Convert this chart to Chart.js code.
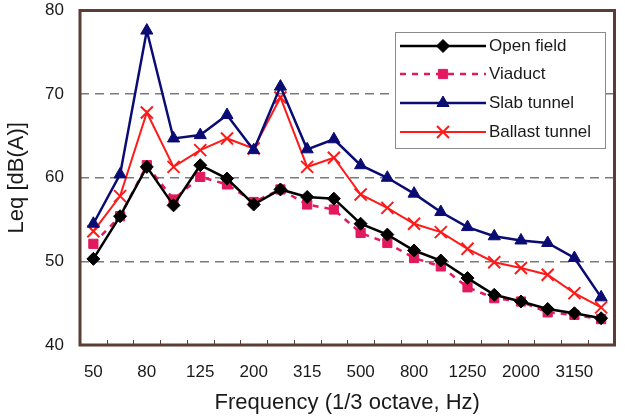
<!DOCTYPE html>
<html>
<head>
<meta charset="utf-8">
<script src="https://cdn.jsdelivr.net/npm/chart.js@4.4.1/dist/chart.umd.min.js"></script>
<style>
  html, body { margin: 0; padding: 0; background: #fff; }
  #wrap { width: 625px; height: 416px; }
</style>
</head>
<body>
<div id="wrap"><canvas id="grafico"></canvas></div>
<script>
// 1/3 octave band centre frequencies (Hz)
var frequencies = ['50', '63', '80', '100', '125', '160', '200', '250', '315', '400',
                   '500', '630', '800', '1000', '1250', '1600', '2000', '2500', '3150', '4000'];
var yTicks = [40, 50, 60, 70, 80];

var openField = [50.3, 55.4, 61.3, 56.7, 61.5, 59.9, 56.8, 58.6, 57.7, 57.5,
                 54.5, 53.2, 51.3, 50.1, 48.0, 46.0, 45.2, 44.3, 43.8, 43.2];
var viaduct = [52.1, 55.4, 61.5, 57.4, 60.1, 59.2, 57.1, 58.6, 56.8, 56.2,
               53.4, 52.2, 50.4, 49.4, 46.9, 45.6, 45.2, 43.9, 43.6, 43.1];
var slabTunnel = [54.5, 60.4, 77.6, 64.7, 65.1, 67.5, 63.3, 70.9, 63.4, 64.6,
                  61.5, 60.0, 58.1, 55.9, 54.1, 53.0, 52.5, 52.2, 50.4, 45.7];
var ballastTunnel = [53.6, 57.8, 67.8, 61.3, 63.3, 64.7, 63.5, 69.6, 61.3, 62.4,
                     58.0, 56.4, 54.5, 53.5, 51.5, 49.9, 49.2, 48.4, 46.2, 44.5];

var FONT = 'Liberation Sans, Arial, sans-serif';
var TEXT = '#1a1a1a';

// frame, inward x ticks and legend box
var framePlugin = {
    id: 'frame',
    afterDraw: function (chart) {
        var ctx = chart.ctx;
        var a = chart.chartArea;
        var x = chart.scales.x;
        var step = x.getPixelForValue(1) - x.getPixelForValue(0);
        ctx.save();
        ctx.strokeStyle = '#5a3d35';
        ctx.lineWidth = 1;
        for (var i = 0; i <= frequencies.length; i++) {
            var px = Math.round(x.getPixelForValue(0) - step / 2 + i * step) + 0.5;
            ctx.beginPath();
            ctx.moveTo(px, a.bottom);
            ctx.lineTo(px, a.bottom - 5);
            ctx.stroke();
        }
        ctx.lineWidth = 3;
        ctx.strokeRect(a.left, a.top, a.right - a.left, a.bottom - a.top);

        // legend
        var bx = 395, by = 32, bw = 210, bh = 116;
        ctx.fillStyle = '#fff';
        ctx.fillRect(bx, by, bw, bh);
        ctx.strokeStyle = '#8a8a8a';
        ctx.lineWidth = 1;
        ctx.strokeRect(bx + 0.5, by + 0.5, bw, bh);
        var rows = [46, 74, 103, 132];
        chart.data.datasets.forEach(function (ds, k) {
            var y = rows[k];
            ctx.strokeStyle = ds.borderColor;
            ctx.lineWidth = ds.borderWidth;
            ctx.setLineDash(ds.borderDash || []);
            ctx.beginPath();
            ctx.moveTo(400, y);
            ctx.lineTo(486, y);
            ctx.stroke();
            ctx.setLineDash([]);
            ctx.fillStyle = ds.pointBackgroundColor;
            ctx.strokeStyle = ds.borderColor;
            ctx.lineWidth = ds.pointBorderWidth;
            Chart.helpers.drawPoint(ctx, {
                pointStyle: ds.pointStyle, radius: ds.pointRadius,
                rotation: 0, borderWidth: ds.pointBorderWidth
            }, 443, y);
            ctx.fillStyle = TEXT;
            ctx.font = '17px ' + FONT;
            ctx.textBaseline = 'middle';
            ctx.textAlign = 'left';
            ctx.fillText(ds.label, 489, y);
        });
        ctx.restore();
    }
};

var ctx = document.getElementById('grafico');
var myChart = new Chart(ctx, {
    type: 'line',
    data: {
        labels: frequencies,
        datasets: [{
            label: 'Open field',
            data: openField,
            borderColor: '#000000',
            backgroundColor: '#000000',
            pointBackgroundColor: '#000000',
            borderWidth: 2.5,
            pointStyle: 'rectRot',
            pointRadius: 6.5,
            pointBorderWidth: 1
        }, {
            label: 'Viaduct',
            data: viaduct,
            borderColor: '#e3195f',
            backgroundColor: '#e3195f',
            pointBackgroundColor: '#e3195f',
            borderWidth: 2.5,
            borderDash: [6, 6],
            pointStyle: 'rect',
            pointRadius: 6.5,
            pointBorderWidth: 1
        }, {
            label: 'Slab tunnel',
            data: slabTunnel,
            borderColor: '#0b0b74',
            backgroundColor: '#0b0b74',
            pointBackgroundColor: '#0b0b74',
            borderWidth: 2.5,
            pointStyle: 'triangle',
            pointRadius: 7,
            pointBorderWidth: 1
        }, {
            label: 'Ballast tunnel',
            data: ballastTunnel,
            borderColor: '#ff1a1a',
            backgroundColor: '#ff1a1a',
            pointBackgroundColor: '#ff1a1a',
            borderWidth: 2,
            pointStyle: 'crossRot',
            pointRadius: 8.5,
            pointBorderWidth: 2
        }]
    },
    options: {
        responsive: true,
        maintainAspectRatio: false,
        animation: false,
        layout: { padding: { top: -3, right: 8, left: 0, bottom: 0 } },
        plugins: {
            legend: { display: false },
            tooltip: { enabled: false }
        },
        elements: { line: { tension: 0 } },
        scales: {
            x: {
                offset: true,
                grid: { display: false, drawTicks: false },
                border: { display: false },
                ticks: {
                    autoSkip: false,
                    maxRotation: 0,
                    padding: 17,
                    color: TEXT,
                    font: { family: FONT, size: 17 },
                    callback: function (v, i) { return i % 2 === 0 ? frequencies[i] : ''; }
                },
                title: {
                    display: true,
                    text: 'Frequency (1/3 octave, Hz)',
                    color: TEXT,
                    font: { family: FONT, size: 22 },
                    padding: { top: 0, bottom: 0 }
                },
                afterFit: function (s) { s.height = 71; s.paddingLeft = 0; s.paddingRight = 0; }
            },
            y: {
                min: 40,
                max: 80,
                afterBuildTicks: function (s) { s.ticks = yTicks.map(function (v) { return { value: v }; }); },
                grid: {
                    drawTicks: false,
                    color: function (c) { return (c.tick.value === 40 || c.tick.value === 80) ? 'rgba(0,0,0,0)' : '#7a7a7a'; },
                    lineWidth: 1.5
                },
                border: { display: false, dash: [9, 6] },
                ticks: {
                    padding: 16,
                    color: TEXT,
                    font: { family: FONT, size: 17 }
                },
                title: {
                    display: true,
                    text: 'Leq [dB(A)]',
                    color: TEXT,
                    font: { family: FONT, size: 22 },
                    padding: { top: 4, bottom: 0 }
                },
                afterFit: function (s) { s.width = 80; s.paddingTop = 0; s.paddingBottom = 0; }
            }
        }
    },
    plugins: [framePlugin]
});
</script>
</body>
</html>
